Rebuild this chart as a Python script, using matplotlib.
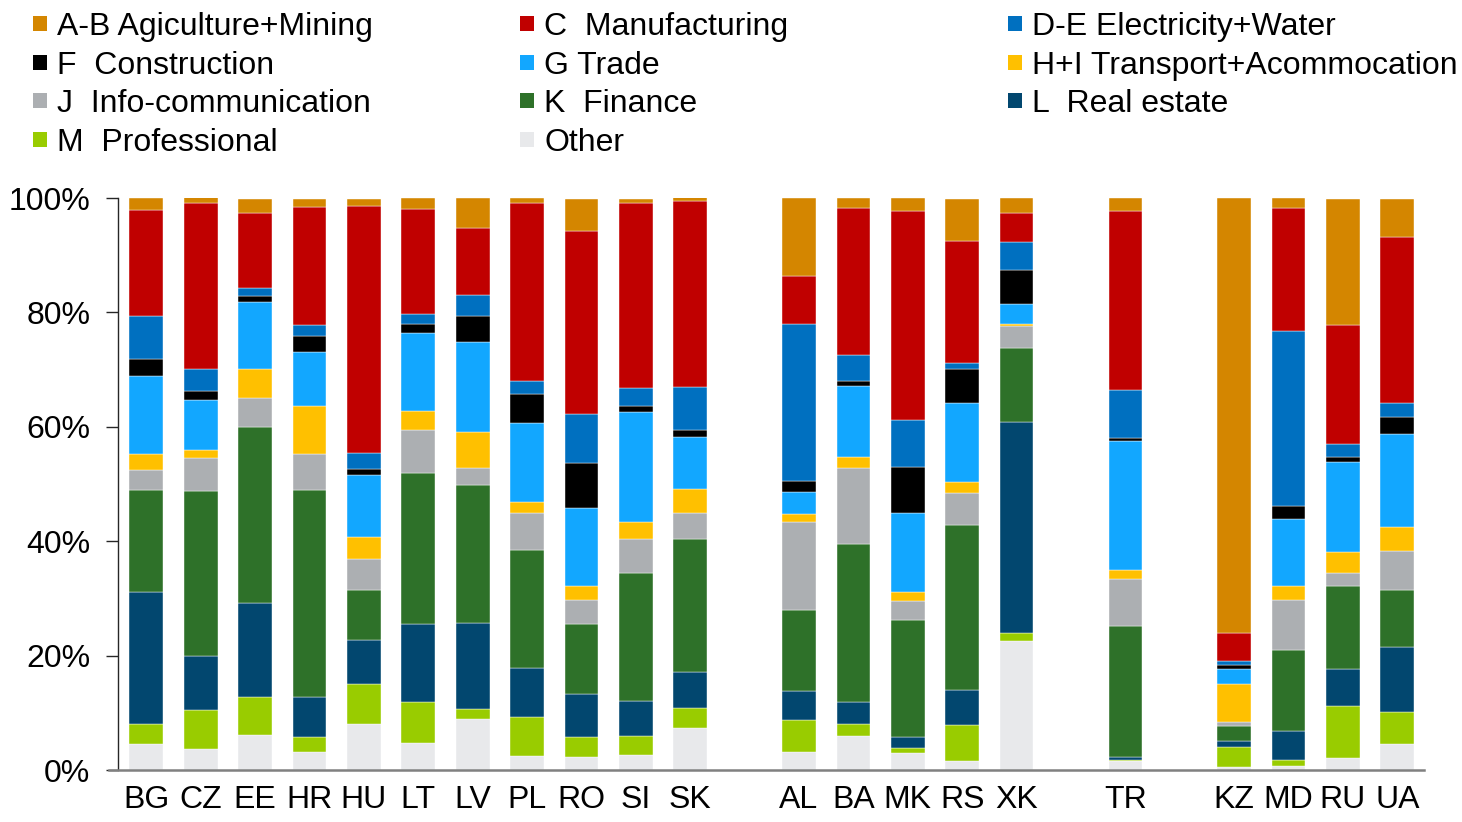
import matplotlib
matplotlib.use("Agg")
import matplotlib.pyplot as plt
from matplotlib.patches import Rectangle
import numpy as np

plt.rcParams['font.family'] = ['Liberation Sans', 'DejaVu Sans']

# Countries, drawn in regional groups separated by one empty slot
countries = ['BG', 'CZ', 'EE', 'HR', 'HU', 'LT', 'LV', 'PL', 'RO', 'SI', 'SK',
             'AL', 'BA', 'MK', 'RS', 'XK',
             'TR',
             'KZ', 'MD', 'RU', 'UA']
group_sizes = [11, 5, 1, 4]

# Sector shares (%), listed from the bottom of each bar upwards
other = [4.5, 3.7, 6.2, 3.2, 8.0, 4.7, 8.9, 2.5, 2.3, 2.7, 7.4,
         3.2, 6.0, 2.9, 1.6, 22.5, 1.5, 0.6, 0.7, 2.1, 4.6]
professional = [3.5, 6.8, 6.6, 2.6, 7.0, 7.2, 1.8, 6.8, 3.5, 3.3, 3.4,
                5.5, 2.0, 0.9, 6.3, 1.4, 0.2, 3.5, 1.0, 9.1, 5.5]
real_estate = [23.1, 9.5, 16.4, 7.0, 7.7, 13.7, 15.0, 8.6, 7.4, 6.1, 6.4,
               5.1, 3.9, 2.0, 6.1, 36.9, 0.6, 0.9, 5.1, 6.4, 11.4]
finance = [17.8, 28.8, 30.7, 36.1, 8.7, 26.4, 24.1, 20.5, 12.4, 22.4, 23.1,
           14.1, 27.6, 20.4, 28.9, 12.9, 22.9, 2.7, 14.2, 14.5, 9.9]
info_comm = [3.5, 5.7, 5.1, 6.3, 5.5, 7.4, 3.0, 6.6, 4.2, 5.8, 4.7,
             15.5, 13.3, 3.4, 5.5, 3.9, 8.2, 0.7, 8.8, 2.4, 6.8]
transport = [2.8, 1.4, 5.1, 8.5, 3.9, 3.4, 6.3, 1.8, 2.3, 3.1, 4.1,
             1.4, 2.0, 1.5, 2.0, 0.3, 1.6, 6.6, 2.4, 3.6, 4.3]
trade = [13.6, 8.8, 11.8, 9.3, 10.7, 13.6, 15.8, 13.9, 13.7, 19.1, 9.1,
         3.8, 12.3, 13.9, 13.8, 3.6, 22.6, 2.6, 11.6, 15.7, 16.2]
construction = [3.1, 1.6, 0.9, 2.8, 1.2, 1.6, 4.5, 5.1, 7.9, 1.2, 1.2,
                1.9, 0.9, 8.0, 5.9, 5.9, 0.5, 0.8, 2.4, 0.9, 3.0]
electricity = [7.4, 3.8, 1.4, 2.0, 2.7, 1.7, 3.7, 2.2, 8.5, 3.0, 7.6,
               27.5, 4.5, 8.2, 1.1, 4.9, 8.3, 0.7, 30.6, 2.3, 2.4]
manufacturing = [18.6, 29.1, 13.1, 20.7, 43.2, 18.3, 11.6, 31.1, 32.0, 32.5, 32.4,
                 8.3, 25.7, 36.5, 21.3, 5.1, 31.3, 4.9, 21.4, 20.8, 29.1]
agri_mining = [2.1, 0.9, 2.6, 1.4, 1.3, 2.0, 5.3, 0.9, 5.7, 0.7, 0.7,
               13.7, 1.8, 2.3, 7.3, 2.6, 2.3, 76.0, 1.8, 22.0, 6.6]

series = [
    ('Other', other, '#E8E9EB'),
    ('M  Professional', professional, '#99CC00'),
    ('L  Real estate', real_estate, '#02476F'),
    ('K  Finance', finance, '#2E7129'),
    ('J  Info-communication', info_comm, '#ACAFB2'),
    ('H+I Transport+Acommocation', transport, '#FFC000'),
    ('G Trade', trade, '#12A7FF'),
    ('F  Construction', construction, '#000000'),
    ('D-E Electricity+Water', electricity, '#0070C0'),
    ('C  Manufacturing', manufacturing, '#C00000'),
    ('A-B Agiculture+Mining', agri_mining, '#D48600'),
]

# x positions: one blank slot between groups
positions = []
start = 0
for size in group_sizes:
    positions.extend(range(start, start + size))
    start += size + 1
positions = np.array(positions, dtype=float)

W, H = 1462, 822
fig = plt.figure(figsize=(W / 100, H / 100), dpi=100)
ax = fig.add_axes([118 / W, 1 - 770 / H, (1424 - 118) / W, (770 - 198) / H])

bottom = np.zeros(len(countries))
colors = {}
for name, vals, color in series:
    vals = np.array(vals, dtype=float)
    ax.bar(positions, vals, bottom=bottom, width=0.62, color=color,
           edgecolor='white', linewidth=0.3, zorder=2)
    bottom += vals
    colors[name] = color

ax.set_xlim(-0.52, positions[-1] + 0.49)
ax.set_ylim(0, 100)
ax.set_xticks(positions)
ax.set_xticklabels(countries)
ax.set_yticks(np.arange(0, 101, 20))
ax.set_yticklabels([f'{v}%' for v in range(0, 101, 20)])
ax.tick_params(axis='x', length=0, pad=11, labelsize=23, colors='black')
ax.tick_params(axis='y', length=9, width=1, direction='out', pad=11,
               labelsize=23, colors='#262626', labelcolor='black')

for side in ('top', 'right'):
    ax.spines[side].set_visible(False)
ax.spines['left'].set_color('#262626')
ax.spines['left'].set_linewidth(1)
ax.spines['bottom'].set_color('#808080')
ax.spines['bottom'].set_linewidth(1.8)
ax.spines['bottom'].set_bounds(-0.52 - 9 / 54.4, positions[-1] + 0.49)
ax.spines['bottom'].set_zorder(3)

# Legend: three columns, filled row by row
legend_rows = [
    ['A-B Agiculture+Mining', 'C  Manufacturing', 'D-E Electricity+Water'],
    ['F  Construction', 'G Trade', 'H+I Transport+Acommocation'],
    ['J  Info-communication', 'K  Finance', 'L  Real estate'],
    ['M  Professional', 'Other'],
]
col_x = [33, 520, 1008]
row_base = [35, 73.7, 112.4, 151]
for r, row in enumerate(legend_rows):
    for c, name in enumerate(row):
        x0 = col_x[c]
        yb = row_base[r]
        fig.patches.append(Rectangle((x0 / W, 1 - (yb - 4) / H), 14 / W, 15 / H,
                                     transform=fig.transFigure,
                                     facecolor=colors[name], edgecolor='none'))
        fig.text((x0 + 24) / W, 1 - yb / H, name, fontsize=23,
                 ha='left', va='baseline', color='black')

fig.savefig('out.png', dpi=100)
